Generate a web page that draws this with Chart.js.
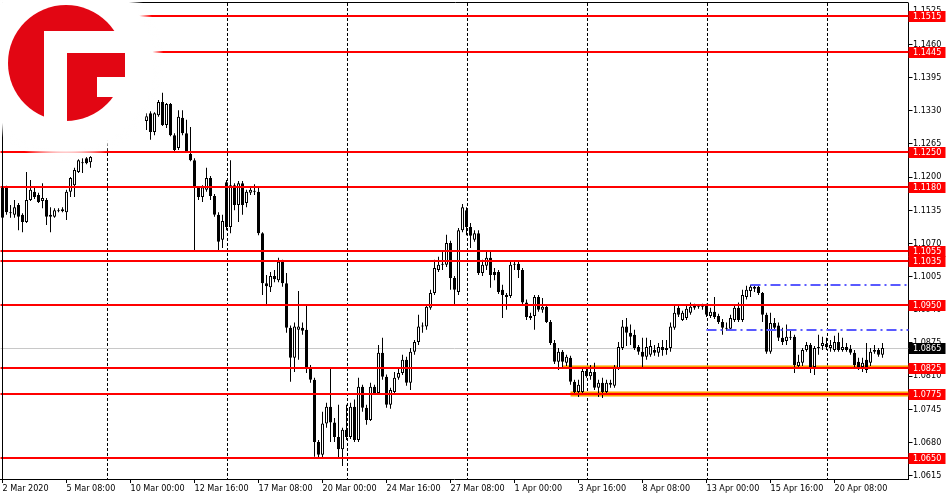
<!DOCTYPE html>
<html>
<head>
<meta charset="utf-8">
<script src="https://cdn.jsdelivr.net/npm/chart.js@4.4.1/dist/chart.umd.min.js"></script>
<style>
  html, body { margin: 0; padding: 0; background: #fff; }
  #wrap { width: 950px; height: 500px; }
</style>
</head>
<body>
<div id="wrap"><canvas id="chart" width="950" height="500"></canvas></div>
<script>
// EURUSD H4, 2 Mar - 22 Apr 2020 (bars 23-35 sit under the logo)
const N = null;
const opens = [
  1.1120,1.1179,1.1131,1.1126,1.1145,1.1126,1.1112,1.1155,1.1171,1.1165,
  1.1153,1.1155,1.1126,1.1122,1.1133,1.1133,1.1131,1.1171,1.1184,1.1210,
  1.1229,1.1237,1.1229,
  N,N,N,N,N,N,N,N,N,N,N,N,N,
  1.1310,1.1325,1.1288,1.1321,1.1347,1.1302,1.1343,1.1282,1.1257,1.1316,
  1.1286,1.1245,1.1233,1.1180,1.1161,1.1175,1.1198,1.1163,1.1126,1.1077,
  1.1190,1.1102,1.1184,1.1145,1.1188,1.1149,1.1169,1.1173,1.1171,1.1090,
  1.0992,1.0984,1.1006,1.0998,1.1034,1.0992,1.0905,1.0846,1.0901,1.0905,
  1.0901,1.0826,1.0803,1.0681,1.0656,1.0717,1.0750,1.0719,1.0691,1.0667,
  1.0705,1.0691,1.0750,1.0685,1.0789,1.0748,1.0724,1.0789,1.0777,1.0856,
  1.0809,1.0754,1.0779,1.0807,1.0816,1.0842,1.0797,1.0858,1.0877,1.0907,
  1.0907,1.0944,1.0973,1.1018,1.1028,1.1028,1.1071,1.1002,1.0975,1.1096,
  1.1135,1.1102,1.1077,1.1090,1.1012,1.1026,1.1042,1.1014,1.1014,1.0979,
  1.0969,1.0967,1.1028,1.1030,1.1018,1.0954,1.0928,1.0928,1.0965,1.0940,
  1.0946,1.0916,1.0875,1.0838,1.0858,1.0836,1.0846,1.0799,1.0779,1.0779,
  1.0820,1.0810,1.0818,1.0787,1.0797,1.0779,1.0797,1.0791,1.0826,1.0865,
  1.0907,1.0895,1.0891,1.0867,1.0858,1.0848,1.0852,1.0861,1.0856,1.0867,
  1.0861,1.0865,1.0905,1.0944,1.0920,1.0924,1.0934,1.0944,1.0946,1.0946,
  1.0948,1.0928,1.0936,1.0928,1.0916,1.0905,1.0903,1.0920,1.0944,1.0920,
  1.0965,1.0977,1.0981,1.0985,1.0973,1.0930,1.0858,1.0914,1.0909,1.0885,
  1.0879,1.0885,1.0887,1.0830,1.0836,1.0861,1.0871,1.0828,1.0865,1.0869,
  1.0873,1.0865,1.0861,1.0877,1.0861,1.0867,1.0863,1.0856,1.0838,1.0828,
  1.0842,1.0836,1.0858,1.0861,1.0852
];
const highs = [
  1.1183,1.1183,1.1145,1.1155,1.1149,1.1129,1.1210,1.1194,1.1179,1.1169,
  1.1188,1.1159,1.1141,1.1139,1.1139,1.1141,1.1175,1.1200,1.1218,1.1235,
  1.1237,1.1239,1.1241,
  N,N,N,N,N,N,N,N,N,N,N,N,N,
  1.1325,1.1329,1.1327,1.1351,1.1365,1.1345,1.1345,1.1286,1.1331,1.1331,
  1.1312,1.1298,1.1237,1.1182,1.1184,1.1218,1.1202,1.1167,1.1131,1.1126,
  1.1194,1.1233,1.1188,1.1192,1.1192,1.1175,1.1179,1.1186,1.1180,1.1092,
  1.1008,1.1014,1.1018,1.1042,1.1038,1.1012,1.0909,1.0915,1.0977,1.0915,
  1.0950,1.0832,1.0807,1.0685,1.0740,1.0758,1.0828,1.0728,1.0754,1.0709,
  1.0754,1.0758,1.0764,1.0807,1.0793,1.0754,1.0797,1.0793,1.0871,1.0885,
  1.0813,1.0787,1.0818,1.0828,1.0852,1.0848,1.0865,1.0881,1.0930,1.0915,
  1.0950,1.0979,1.1038,1.1044,1.1053,1.1087,1.1075,1.1006,1.1100,1.1147,
  1.1141,1.1110,1.1096,1.1096,1.1038,1.1053,1.1053,1.1022,1.1018,1.0989,
  1.0973,1.1034,1.1034,1.1034,1.1022,1.0960,1.0934,1.0969,1.0969,1.0963,
  1.0950,1.0920,1.0881,1.0865,1.0861,1.0852,1.0850,1.0803,1.0803,1.0826,
  1.0826,1.0832,1.0836,1.0803,1.0807,1.0803,1.0803,1.0832,1.0877,1.0920,
  1.0924,1.0911,1.0901,1.0871,1.0885,1.0885,1.0881,1.0871,1.0875,1.0881,
  1.0881,1.0915,1.0950,1.0950,1.0938,1.0950,1.0954,1.0952,1.0950,1.0952,
  1.0952,1.0944,1.0965,1.0932,1.0922,1.0915,1.0930,1.0950,1.0954,1.0979,
  1.0987,1.0989,1.0987,1.0987,1.0975,1.0934,1.0934,1.0924,1.0915,1.0905,
  1.0911,1.0901,1.0891,1.0852,1.0865,1.0877,1.0875,1.0869,1.0891,1.0887,
  1.0885,1.0881,1.0889,1.0895,1.0885,1.0875,1.0871,1.0861,1.0846,1.0846,
  1.0875,1.0865,1.0871,1.0865,1.0875
];
const lows = [
  1.1112,1.1126,1.1120,1.1120,1.1096,1.1092,1.1110,1.1153,1.1157,1.1149,
  1.1139,1.1106,1.1092,1.1120,1.1131,1.1131,1.1116,1.1161,1.1161,1.1208,
  1.1208,1.1225,1.1218,
  N,N,N,N,N,N,N,N,N,N,N,N,N,
  1.1292,1.1273,1.1282,1.1318,1.1300,1.1296,1.1280,1.1249,1.1253,1.1282,
  1.1247,1.1231,1.1053,1.1155,1.1151,1.1171,1.1155,1.1122,1.1053,1.1061,
  1.1096,1.1090,1.1135,1.1112,1.1126,1.1141,1.1165,1.1165,1.1086,1.0969,
  1.0950,1.0975,1.0994,1.0994,1.0985,1.0895,1.0799,1.0818,1.0842,1.0891,
  1.0816,1.0797,1.0652,1.0650,1.0650,1.0709,1.0681,1.0681,1.0650,1.0634,
  1.0685,1.0687,1.0681,1.0681,1.0740,1.0715,1.0722,1.0773,1.0773,1.0803,
  1.0748,1.0746,1.0773,1.0803,1.0812,1.0791,1.0783,1.0852,1.0871,1.0895,
  1.0901,1.0940,1.0969,1.1014,1.1018,1.1024,1.0979,1.0950,1.0969,1.1092,
  1.1086,1.1061,1.1073,1.1008,1.1006,1.1018,1.0983,1.0998,1.0971,1.0924,
  1.0940,1.0963,1.1018,1.1002,1.0950,1.0920,1.0920,1.0901,1.0936,1.0934,
  1.0914,1.0871,1.0834,1.0822,1.0828,1.0830,1.0793,1.0775,1.0769,1.0777,
  1.0807,1.0803,1.0783,1.0769,1.0767,1.0773,1.0787,1.0787,1.0822,1.0861,
  1.0869,1.0871,1.0861,1.0852,1.0826,1.0842,1.0848,1.0850,1.0848,1.0850,
  1.0852,1.0858,1.0901,1.0926,1.0918,1.0920,1.0930,1.0940,1.0942,1.0940,
  1.0926,1.0924,1.0922,1.0912,1.0891,1.0899,1.0899,1.0916,1.0916,1.0916,
  1.0960,1.0965,1.0975,1.0969,1.0916,1.0854,1.0854,1.0901,1.0879,1.0871,
  1.0871,1.0881,1.0816,1.0824,1.0830,1.0858,1.0816,1.0812,1.0852,1.0861,
  1.0861,1.0858,1.0858,1.0858,1.0858,1.0858,1.0852,1.0826,1.0822,1.0818,
  1.0816,1.0830,1.0854,1.0848,1.0846
];
const closes = [
  1.1179,1.1131,1.1129,1.1141,1.1122,1.1112,1.1155,1.1175,1.1161,1.1151,
  1.1159,1.1122,1.1122,1.1135,1.1135,1.1137,1.1171,1.1198,1.1214,1.1233,
  1.1227,1.1227,1.1239,
  N,N,N,N,N,N,N,N,N,N,N,N,N,
  1.1319,1.1288,1.1325,1.1347,1.1302,1.1343,1.1282,1.1253,1.1318,1.1286,
  1.1249,1.1233,1.1180,1.1161,1.1180,1.1198,1.1163,1.1126,1.1073,1.1114,
  1.1102,1.1184,1.1145,1.1188,1.1145,1.1171,1.1175,1.1171,1.1090,1.0992,
  1.0986,1.1006,1.1000,1.1034,1.0992,1.0905,1.0846,1.0907,1.0907,1.0899,
  1.0826,1.0803,1.0681,1.0656,1.0717,1.0750,1.0719,1.0691,1.0667,1.0705,
  1.0691,1.0750,1.0685,1.0789,1.0748,1.0724,1.0789,1.0777,1.0856,1.0809,
  1.0754,1.0783,1.0807,1.0816,1.0842,1.0797,1.0858,1.0877,1.0907,1.0909,
  1.0946,1.0973,1.1022,1.1028,1.1028,1.1071,1.1002,1.0979,1.1096,1.1141,
  1.1102,1.1085,1.1090,1.1012,1.1028,1.1042,1.1008,1.1008,1.0975,1.0969,
  1.0965,1.1028,1.1030,1.1018,1.0954,1.0926,1.0924,1.0965,1.0940,1.0946,
  1.0916,1.0875,1.0838,1.0858,1.0838,1.0848,1.0799,1.0779,1.0793,1.0820,
  1.0810,1.0818,1.0787,1.0797,1.0779,1.0797,1.0793,1.0826,1.0867,1.0907,
  1.0895,1.0887,1.0865,1.0858,1.0848,1.0867,1.0869,1.0856,1.0867,1.0861,
  1.0865,1.0907,1.0934,1.0930,1.0934,1.0942,1.0946,1.0948,1.0946,1.0950,
  1.0930,1.0936,1.0926,1.0916,1.0905,1.0903,1.0924,1.0944,1.0920,1.0969,
  1.0979,1.0985,1.0985,1.0973,1.0930,1.0858,1.0914,1.0905,1.0885,1.0877,
  1.0887,1.0887,1.0832,1.0838,1.0861,1.0871,1.0828,1.0865,1.0867,1.0875,
  1.0867,1.0871,1.0877,1.0861,1.0867,1.0861,1.0856,1.0832,1.0828,1.0836,
  1.0822,1.0858,1.0861,1.0852,1.0865
];

// time axis
const SLOTS = 227;
const tickLabels = ['2 Mar 2020', '5 Mar 08:00', '10 Mar 00:00', '12 Mar 16:00', '17 Mar 08:00',
  '20 Mar 00:00', '24 Mar 16:00', '27 Mar 08:00', '1 Apr 00:00', '3 Apr 16:00',
  '8 Apr 08:00', '13 Apr 00:00', '15 Apr 16:00', '20 Apr 08:00'];
const tickBars = [0, 16, 32, 48, 64, 80, 96, 112, 128, 144, 160, 176, 192, 208];
const gridBars = [26, 56, 86, 116, 146, 176, 206];

// price axis and drawn objects
const yTicks = [1.0615, 1.0680, 1.0745, 1.0810, 1.0875, 1.0940, 1.1005, 1.1070,
  1.1135, 1.1200, 1.1265, 1.1330, 1.1395, 1.1460, 1.1525];
const levels = [1.1515, 1.1445, 1.1250, 1.1180, 1.1055, 1.1035, 1.0950, 1.0825, 1.0775, 1.0650];
const bidPrice = 1.0865;
const zoneLo = [1.0824, 1.0770];
const zoneHi = [1.0831, 1.0780];
const zoneFrom = [140, 142];
const bluePrice = [1.0988, 1.0900];
const blueFrom = [187, 176];

const RED = '#ff0000';
const LOGO_RED = '#e20613';
const FONT = '"DejaVu Sans Condensed", "Liberation Sans", Arial, sans-serif';

const labels = Array.from({ length: SLOTS }, (_, i) => {
  const k = tickBars.indexOf(i);
  return k >= 0 ? tickLabels[k] : '';
});
const bodies = opens.map((o, i) => o == null ? null : [o, closes[i]]);
const wicks = lows.map((l, i) => l == null ? null : [l, highs[i]]);
const bodyFill = opens.map((o, i) => (o != null && closes[i] >= o) ? '#ffffff' : '#000000');

function noPad(scale) {
  scale.paddingTop = 0; scale.paddingBottom = 0;
  scale.paddingLeft = 0; scale.paddingRight = 0;
}

function drawLogo(ctx) {
  const cx = 66, cy = 63;
  // white halo behind the logo, soft at the rim
  const g = ctx.createRadialGradient(cx, cy, 0, cx, cy, 98);
  g.addColorStop(0, '#fff');
  g.addColorStop(0.89, '#fff');
  g.addColorStop(1, 'rgba(255,255,255,0)');
  ctx.fillStyle = g;
  ctx.beginPath(); ctx.arc(cx, cy, 98, 0, Math.PI * 2); ctx.fill();

  ctx.fillStyle = LOGO_RED;
  ctx.beginPath(); ctx.arc(cx, cy, 58, 0, Math.PI * 2); ctx.fill();
  // middle arm sticks out a bit on the right
  ctx.fillRect(67, 53, 58, 24);

  ctx.fillStyle = '#fff';
  ctx.fillRect(44, 31, 23, 95);
  ctx.fillRect(44, 31, 84, 22);
  ctx.fillRect(97, 77, 30, 20);
}

const overlay = {
  id: 'overlay',
  beforeDatasetsDraw(chart) {
    const { ctx, chartArea: a, scales: { x, y } } = chart;
    ctx.save();
    ctx.strokeStyle = '#000';
    ctx.lineWidth = 1;
    ctx.setLineDash([3, 2]);
    gridBars.forEach(b => {
      const px = Math.round(x.getPixelForValue(b)) + 0.5;
      ctx.beginPath(); ctx.moveTo(px, a.top); ctx.lineTo(px, a.bottom); ctx.stroke();
    });
    ctx.setLineDash([]);

    const by = Math.round(y.getPixelForValue(bidPrice)) + 0.5;
    ctx.strokeStyle = '#c8c8c8';
    ctx.beginPath(); ctx.moveTo(a.left, by); ctx.lineTo(a.right, by); ctx.stroke();

    ctx.fillStyle = '#ffa500';
    zoneLo.forEach((lo, k) => {
      const x0 = x.getPixelForValue(zoneFrom[k]);
      const y0 = y.getPixelForValue(zoneHi[k]);
      const y1 = y.getPixelForValue(lo);
      ctx.fillRect(x0, y0, a.right - x0, y1 - y0);
    });
    ctx.restore();
  },
  afterDatasetsDraw(chart) {
    const { ctx, chartArea: a, scales: { x, y } } = chart;
    ctx.save();
    ctx.fillStyle = RED;
    levels.forEach(p => {
      const py = Math.round(y.getPixelForValue(p));
      ctx.fillRect(a.left, py - 1, a.right - a.left, 2);
    });

    ctx.strokeStyle = '#5a5aff';
    ctx.lineWidth = 2;
    ctx.setLineDash([10, 4, 2, 4]);
    bluePrice.forEach((p, k) => {
      const py = Math.round(y.getPixelForValue(p));
      ctx.beginPath(); ctx.moveTo(x.getPixelForValue(blueFrom[k]), py); ctx.lineTo(a.right, py); ctx.stroke();
    });
    ctx.restore();
  },
  afterDraw(chart) {
    const { ctx, chartArea: a, scales: { y } } = chart;
    ctx.save();
    // top and left frame
    ctx.strokeStyle = '#000';
    ctx.lineWidth = 1;
    ctx.beginPath();
    ctx.moveTo(2.5, a.bottom); ctx.lineTo(2.5, 2.5); ctx.lineTo(a.right, 2.5);
    ctx.stroke();

    // price labels on the right
    ctx.font = '9px ' + FONT;
    ctx.textBaseline = 'middle';
    ctx.textAlign = 'left';
    const tag = (p, bg) => {
      const py = Math.round(y.getPixelForValue(p));
      ctx.fillStyle = bg;
      ctx.fillRect(a.right, py - 5, 37, 11);
      ctx.fillStyle = '#fff';
      ctx.fillText(p.toFixed(4), a.right + 4.5, py + 0.5);
    };
    levels.forEach(p => tag(p, RED));
    tag(bidPrice, '#000');

    drawLogo(ctx);
    ctx.restore();
  }
};

Chart.defaults.font.family = FONT;
Chart.defaults.font.size = 9;
Chart.defaults.color = '#000';

new Chart(document.getElementById('chart'), {
  type: 'bar',
  data: {
    labels,
    datasets: [
      {
        label: 'wick',
        data: wicks,
        backgroundColor: '#000',
        borderWidth: 0,
        barThickness: 1,
        inflateAmount: 0,
        grouped: false,
        order: 2,
      },
      {
        label: 'body',
        data: bodies,
        backgroundColor: bodyFill,
        borderColor: '#000',
        borderWidth: 1,
        borderSkipped: false,
        barThickness: 3,
        inflateAmount: 0,
        minBarLength: 1,
        grouped: false,
        order: 1,
      }
    ]
  },
  options: {
    responsive: false,
    animation: false,
    devicePixelRatio: 1,
    layout: { padding: { left: 0.5, top: 3, right: 0, bottom: 0 } },
    plugins: { legend: { display: false }, tooltip: { enabled: false } },
    scales: {
      x: {
        offset: true,
        grid: { display: true, drawOnChartArea: false, offset: false, tickLength: 4, color: '#000' },
        border: { display: true, color: '#000' },
        ticks: { autoSkip: false, maxRotation: 0, minRotation: 0, align: 'start', padding: 0, color: '#000' },
        afterBuildTicks: (scale) => { scale.ticks = tickBars.map(v => ({ value: v })); },
        afterFit: (scale) => { scale.height = 21; noPad(scale); }
      },
      y: {
        position: 'right',
        min: 1.06085,
        max: 1.15409,
        grid: { display: true, drawOnChartArea: false, tickLength: 4, color: '#000' },
        border: { display: true, color: '#000' },
        ticks: { autoSkip: false, padding: 0.5, color: '#000', callback: (v) => Number(v).toFixed(4) },
        afterBuildTicks: (scale) => { scale.ticks = yTicks.map(v => ({ value: v })); },
        afterFit: (scale) => { scale.width = 41.5; noPad(scale); }
      }
    }
  },
  plugins: [overlay]
});
</script>
</body>
</html>
